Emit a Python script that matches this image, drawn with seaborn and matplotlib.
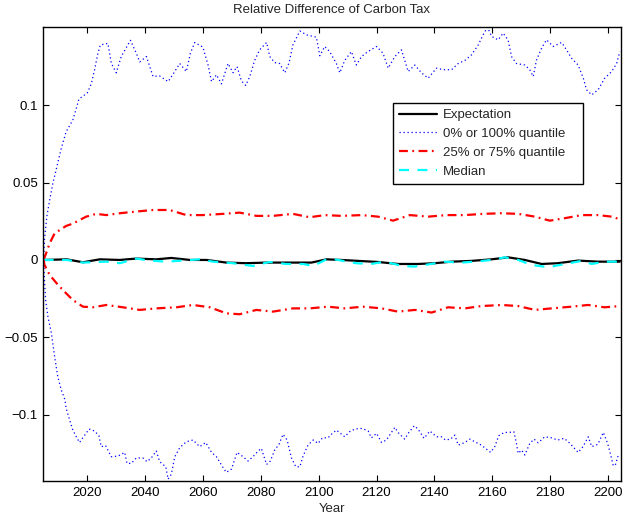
import matplotlib
matplotlib.use("Agg")
import matplotlib.pyplot as plt
import seaborn as sns
from matplotlib.lines import Line2D

# Upper / lower envelope (0% and 100% quantiles)
q100_years = [2005.0, 2005.3, 2006.1, 2007.1, 2008.2, 2009.6, 2011.1, 2012.8, 2015.1, 2016.6,
              2017.2, 2020.1, 2021.5, 2022.6, 2023.8, 2024.6, 2027.2, 2028.4, 2030.1, 2031.8,
              2035.0, 2037.0, 2038.2, 2040.5, 2042.8, 2045.0, 2048.0, 2050.3, 2052.0, 2054.3,
              2055.7, 2057.2, 2060.0, 2061.8, 2063.0, 2064.7, 2066.4, 2068.7, 2070.4, 2071.8,
              2073.3, 2074.8, 2076.2, 2077.9, 2079.6, 2082.0, 2083.1, 2084.8, 2086.5, 2088.3,
              2089.8, 2091.1, 2093.5, 2095.8, 2099.2, 2100.4, 2102.1, 2103.8, 2106.1, 2107.3,
              2109.0, 2111.3, 2113.0, 2114.8, 2117.0, 2120.0, 2122.2, 2124.0, 2126.3, 2128.6,
              2130.9, 2133.2, 2135.5, 2137.8, 2140.7, 2143.0, 2145.9, 2148.2, 2150.5, 2152.8,
              2155.1, 2156.8, 2158.3, 2159.7, 2162.0, 2163.7, 2165.4, 2166.6, 2168.3, 2171.2,
              2172.9, 2174.1, 2175.2, 2177.0, 2178.7, 2181.0, 2183.9, 2185.6, 2187.3, 2189.6,
              2191.4, 2192.5, 2194.3, 2196.5, 2198.8, 2201.2, 2202.9, 2204.0]
q100_vals = [0.0, 0.013, 0.028, 0.0388, 0.0496, 0.0604, 0.0722, 0.083, 0.0905, 0.100,
             0.104, 0.108, 0.114, 0.123, 0.134, 0.139, 0.140, 0.127, 0.121, 0.1315,
             0.142, 0.1337, 0.128, 0.1315, 0.1186, 0.119, 0.1153, 0.1218, 0.127, 0.1218,
             0.1337, 0.1406, 0.1376, 0.126, 0.1153, 0.1197, 0.1138, 0.127, 0.121, 0.125,
             0.1158, 0.1128, 0.1186, 0.129, 0.1358, 0.1406, 0.1315, 0.1276, 0.127, 0.121,
             0.1276, 0.139, 0.148, 0.1455, 0.144, 0.132, 0.138, 0.1347, 0.127, 0.121,
             0.129, 0.1347, 0.126, 0.1315, 0.1347, 0.138, 0.1337, 0.124, 0.1315, 0.1358,
             0.1218, 0.126, 0.121, 0.1175, 0.124, 0.123, 0.123, 0.127, 0.129, 0.1326,
             0.139, 0.1455, 0.1505, 0.1445, 0.1423, 0.1466, 0.1423, 0.1315, 0.127, 0.126,
             0.123, 0.1186, 0.129, 0.137, 0.1423, 0.138, 0.1406, 0.1358, 0.1305, 0.126,
             0.1175, 0.110, 0.1067, 0.110, 0.1175, 0.1218, 0.127, 0.1347]

q0_years = [2005.0, 2005.3, 2005.7, 2006.5, 2007.7, 2008.8, 2009.9, 2011.1, 2012.3, 2012.8,
            2014.0, 2015.1, 2016.3, 2017.4, 2018.8, 2020.7, 2022.6, 2024.1, 2024.9, 2026.4,
            2028.4, 2030.7, 2033.0, 2033.8, 2035.3, 2037.0, 2039.3, 2040.7, 2042.2, 2043.9,
            2045.1, 2047.2, 2048.0, 2049.1, 2050.3, 2052.0, 2054.3, 2056.6, 2058.9, 2061.0,
            2063.0, 2064.7, 2067.0, 2068.1, 2069.9, 2071.8, 2073.9, 2075.6, 2077.3, 2079.1,
            2080.2, 2082.0, 2083.3, 2084.8, 2086.3, 2087.7, 2089.1, 2090.6, 2092.1, 2093.5,
            2094.6, 2096.3, 2098.1, 2099.8, 2101.3, 2103.2, 2104.4, 2106.1, 2109.0, 2110.7,
            2112.5, 2115.0, 2117.1, 2118.2, 2120.0, 2121.7, 2123.4, 2124.9, 2126.3, 2127.4,
            2129.7, 2130.9, 2133.0, 2134.3, 2136.4, 2138.4, 2140.7, 2142.4, 2143.8, 2145.6,
            2147.0, 2148.2, 2150.5, 2152.2, 2153.9, 2156.2, 2157.6, 2159.4, 2160.8, 2162.2,
            2164.1, 2165.8, 2167.4, 2168.3, 2168.9, 2170.1, 2171.2, 2172.9, 2174.4, 2175.8,
            2178.1, 2180.4, 2182.6, 2184.8, 2186.8, 2187.8, 2189.6, 2191.3, 2193.1, 2194.3,
            2196.4, 2198.3, 2199.8, 2200.8, 2201.7, 2202.4, 2203.3, 2204.0]
q0_vals = [0.0, -0.013, -0.026, -0.0367, -0.0474, -0.0625, -0.0755, -0.084, -0.090, -0.096,
           -0.1035, -0.110, -0.1143, -0.118, -0.1143, -0.1093, -0.1106, -0.1136, -0.1207, -0.120,
           -0.1272, -0.1268, -0.1244, -0.1315, -0.1315, -0.128, -0.128, -0.1304, -0.128, -0.1235,
           -0.1304, -0.1337, -0.1417, -0.1386, -0.1272, -0.1214, -0.1175, -0.1164, -0.1207, -0.118,
           -0.1244, -0.1272, -0.1343, -0.1373, -0.1352, -0.1244, -0.1272, -0.130, -0.1272, -0.1235,
           -0.1218, -0.1322, -0.130, -0.1229, -0.1192, -0.1127, -0.1164, -0.128, -0.1337, -0.1337,
           -0.1268, -0.1197, -0.1164, -0.1186, -0.115, -0.115, -0.1127, -0.110, -0.1143, -0.111,
           -0.1093, -0.1089, -0.1106, -0.115, -0.1121, -0.118, -0.1164, -0.1121, -0.1082, -0.1115,
           -0.1158, -0.1121, -0.1072, -0.1093, -0.1153, -0.1106, -0.1143, -0.1143, -0.1164, -0.1158,
           -0.1132, -0.1197, -0.118, -0.1158, -0.1175, -0.1197, -0.1218, -0.1244, -0.1207, -0.1136,
           -0.1115, -0.1115, -0.111, -0.1186, -0.125, -0.1229, -0.1261, -0.1186, -0.1158, -0.1182,
           -0.1143, -0.115, -0.1164, -0.1153, -0.1186, -0.1207, -0.1244, -0.1207, -0.1143, -0.1207,
           -0.1192, -0.1115, -0.1186, -0.1257, -0.1326, -0.133, -0.1272, -0.126]

# Inter-quartile band (25% and 75% quantiles)
q75_years = [2005.0, 2005.9, 2007.1, 2008.8, 2012.8, 2015.1, 2019.7, 2023.2, 2026.7, 2031.3,
             2037.0, 2042.8, 2048.5, 2054.3, 2060.0, 2067.0, 2072.7, 2078.5, 2084.2, 2091.1,
             2096.9, 2102.1, 2107.9, 2114.8, 2120.5, 2125.7, 2131.5, 2137.8, 2144.2, 2150.5,
             2156.8, 2163.2, 2168.9, 2174.7, 2179.8, 2185.0, 2190.8, 2196.5, 2201.2, 2204.0]
q75_vals = [0.0, 0.0045, 0.0108, 0.0172, 0.022, 0.0235, 0.028, 0.0298, 0.029, 0.0302,
            0.0313, 0.0323, 0.0323, 0.029, 0.029, 0.0298, 0.0306, 0.0285, 0.0285, 0.0298,
            0.0276, 0.029, 0.0285, 0.029, 0.028, 0.0254, 0.029, 0.028, 0.029, 0.029,
            0.0298, 0.0302, 0.0298, 0.028, 0.0254, 0.027, 0.029, 0.029, 0.028, 0.0263]

q25_years = [2005.0, 2005.3, 2007.1, 2010.0, 2012.8, 2015.1, 2018.6, 2022.0, 2026.7, 2032.4,
             2038.2, 2043.9, 2050.9, 2056.6, 2062.4, 2068.1, 2072.7, 2078.5, 2084.2, 2091.1,
             2096.9, 2103.2, 2109.0, 2115.3, 2121.7, 2127.4, 2133.2, 2139.0, 2144.7, 2150.5,
             2156.2, 2163.2, 2168.9, 2174.7, 2180.4, 2187.3, 2193.0, 2198.8, 2204.0]
q25_vals = [0.0, -0.0032, -0.0097, -0.0162, -0.0216, -0.0259, -0.0302, -0.0306, -0.0291, -0.0306,
            -0.0323, -0.0313, -0.0306, -0.0291, -0.0306, -0.0345, -0.0351, -0.0323, -0.0334, -0.0313,
            -0.0313, -0.0302, -0.0313, -0.0302, -0.0313, -0.0334, -0.0323, -0.034, -0.0306, -0.0313,
            -0.0298, -0.0291, -0.0298, -0.0323, -0.0313, -0.0302, -0.0291, -0.0306, -0.0298]

# Central tendency
mean_years = [2005.0, 2013.0, 2018.6, 2024.4, 2031.3, 2037.0, 2043.9, 2049.1, 2055.5, 2061.3,
              2068.1, 2075.0, 2082.0, 2090.0, 2097.5, 2102.7, 2107.9, 2113.6, 2120.5, 2127.4,
              2134.4, 2140.1, 2145.9, 2152.8, 2159.7, 2165.4, 2171.2, 2177.0, 2182.6, 2189.6,
              2196.5, 2204.0]
mean_vals = [0.0, 0.0004, -0.0015, 0.0004, 0.0, 0.0009, 0.0004, 0.0013, 0.0, 0.0,
             -0.0017, -0.0021, -0.0017, -0.0017, -0.0017, 0.0004, 0.0, -0.0006, -0.0013, -0.0026,
             -0.0026, -0.0021, -0.0011, -0.0006, 0.0004, 0.0017, 0.0, -0.0026, -0.0021, -0.0004,
             -0.0011, -0.0011]

median_years = [2005.0, 2013.0, 2018.6, 2026.7, 2031.3, 2037.0, 2041.6, 2047.4, 2053.1, 2058.9,
                2063.5, 2070.4, 2077.3, 2083.0, 2088.8, 2094.6, 2098.1, 2102.7, 2105.5, 2112.9,
                2118.1, 2122.7, 2129.0, 2133.0, 2138.8, 2143.4, 2149.2, 2153.9, 2159.7, 2164.3,
                2168.9, 2173.5, 2179.3, 2185.0, 2190.8, 2194.3, 2198.8, 2204.0]
median_vals = [0.0, 0.0, -0.0017, -0.0011, -0.0021, 0.0009, -0.0004, -0.0011, -0.0004, 0.0004,
               -0.0011, -0.0021, -0.0039, -0.0013, -0.0026, -0.0026, -0.0039, 0.0004, 0.0004, -0.0021,
               -0.0026, -0.0011, -0.0039, -0.0043, -0.0026, -0.0011, -0.0017, -0.0011, 0.0, 0.0017,
               0.0, -0.0032, -0.0047, -0.0026, -0.0006, -0.0026, -0.0011, -0.0011]

x_ticks = [2020, 2040, 2060, 2080, 2100, 2120, 2140, 2160, 2180, 2200]
y_ticks = [-0.1, -0.05, 0, 0.05, 0.1]
y_tick_labels = ["\u22120.1", "\u22120.05", "0", "0.05", "0.1"]
legend_labels = ["Expectation", "0% or 100% quantile", "25% or 75% quantile", "Median"]

FS = 9.5

sns.set_style("ticks")
plt.rcParams["font.family"] = ["Liberation Sans", "DejaVu Sans"]
plt.rcParams["axes.linewidth"] = 1.0

fig = plt.figure(figsize=(6.26, 5.16), dpi=100)
ax = fig.add_axes([0.0692, 0.0678, 0.9223, 0.8793])

dot_style = (0, (1.0, 2.2))
dashdot_style = (0, (4.0, 2.0, 0.8, 2.0))
dash_style = (0, (4.5, 3.8))

common = dict(ax=ax, estimator=None, sort=False, errorbar=None, legend=False)
sns.lineplot(x=mean_years, y=mean_vals, color="black", linewidth=1.6, **common)
sns.lineplot(x=q100_years, y=q100_vals, color=(0, 0, 1), linewidth=0.9, linestyle=dot_style, **common)
sns.lineplot(x=q75_years, y=q75_vals, color="red", linewidth=1.6, linestyle=dashdot_style, **common)
sns.lineplot(x=median_years, y=median_vals, color=(0, 1, 1), linewidth=1.6, linestyle=dash_style, **common)
sns.lineplot(x=q0_years, y=q0_vals, color=(0, 0, 1), linewidth=0.9, linestyle=dot_style, **common)
sns.lineplot(x=q25_years, y=q25_vals, color="red", linewidth=1.6, linestyle=dashdot_style, **common)

ax.set_xlim(2004.9, 2204.3)
ax.set_ylim(-0.1429, 0.1504)
ax.set_xticks(x_ticks)
ax.set_xticklabels([str(t) for t in x_ticks])
ax.set_yticks(y_ticks)
ax.set_yticklabels(y_tick_labels)
ax.tick_params(direction="in", length=4, width=0.8, top=True, right=True,
               labelsize=FS, colors="black", pad=4)
for s in ax.spines.values():
    s.set_visible(True)
    s.set_color("black")

ax.set_xlabel("Year", fontsize=FS, labelpad=3)
ax.set_title("Relative Difference of Carbon Tax", fontsize=FS, pad=10)

handles = [
    Line2D([], [], color="black", linewidth=1.6),
    Line2D([], [], color=(0, 0, 1), linewidth=0.9, linestyle=dot_style),
    Line2D([], [], color="red", linewidth=1.6, linestyle=dashdot_style),
    Line2D([], [], color=(0, 1, 1), linewidth=1.6, linestyle=dash_style),
]
leg = ax.legend(handles, legend_labels, loc="upper left",
                bbox_to_anchor=(0.606, 0.655, 0.329, 0.178), mode="expand",
                borderaxespad=0, fontsize=FS, handlelength=2.9, handletextpad=0.45,
                labelspacing=0.5, borderpad=0.45, fancybox=False, framealpha=1)
leg.get_frame().set_edgecolor("black")
leg.get_frame().set_linewidth(1.0)

fig.savefig("out.png", dpi=100)
